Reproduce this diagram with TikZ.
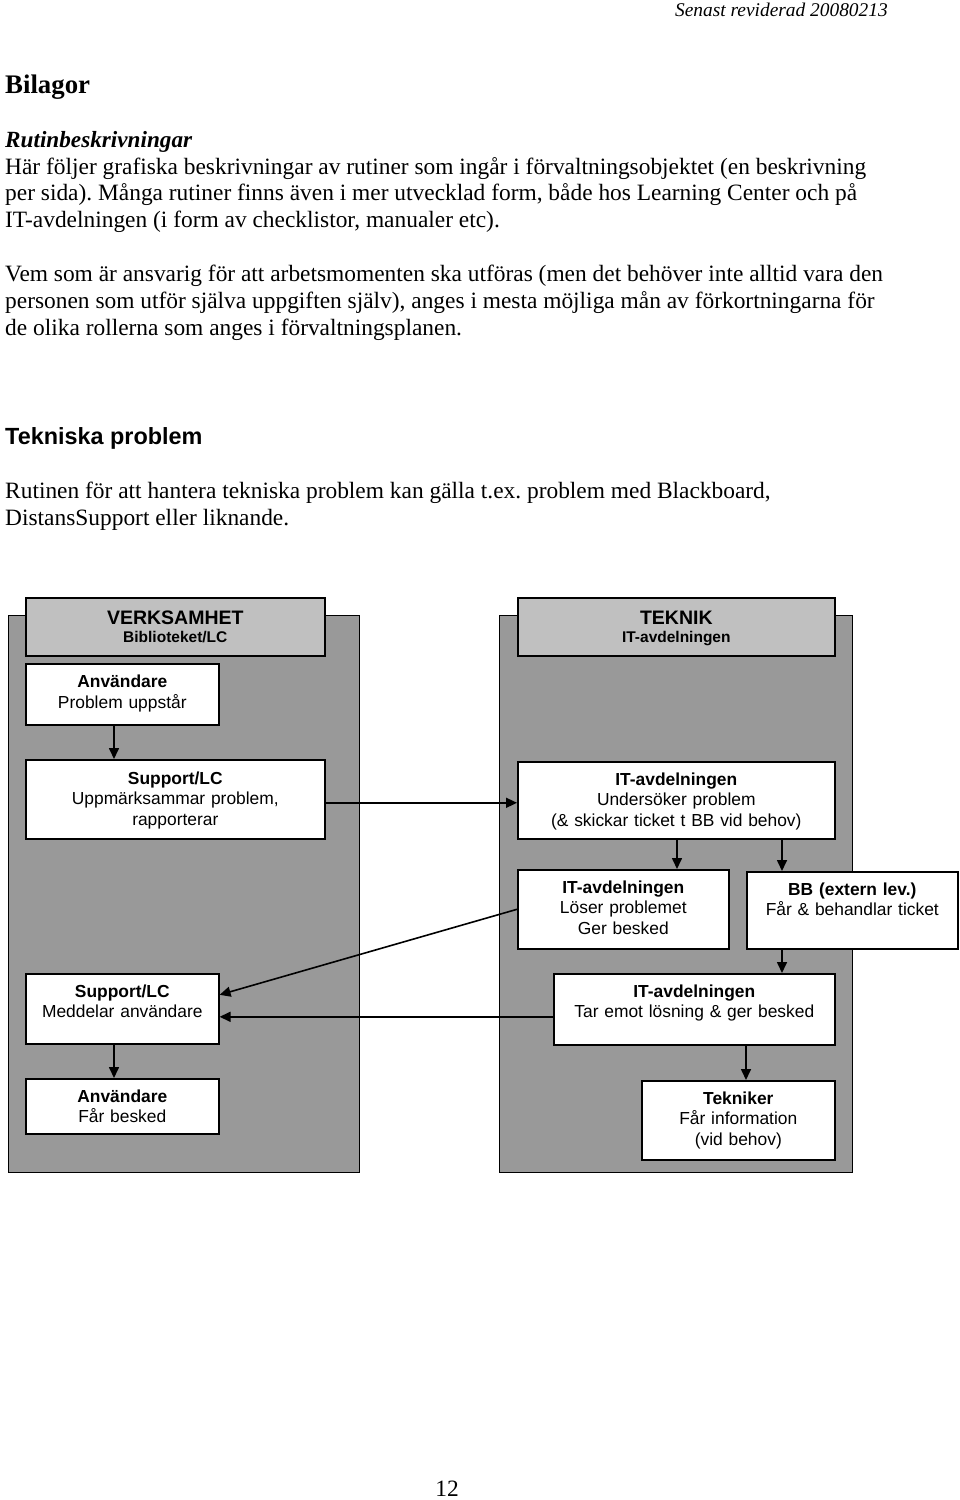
\documentclass[tikz,border=0pt]{standalone}
\usepackage{fontspec}
\setmainfont{Liberation Serif}
\setsansfont{Liberation Sans}
\usetikzlibrary{arrows.meta,calc}
\definecolor{lanegray}{HTML}{999999}
\definecolor{hdrgray}{HTML}{C0C0C0}
\frenchspacing
\begin{document}
\begin{tikzpicture}[x=1pt,y=-1pt,
 lane/.style={draw=black, line width=1.3pt, fill=lanegray, anchor=north west, inner sep=0},
 hdr/.style={draw=black, line width=1.6pt, fill=hdrgray, anchor=north west, inner sep=0},
 box/.style={draw=black, line width=1.6pt, fill=white, anchor=north west, inner sep=0},
 btxt/.style={font=\sffamily\fontsize{17.4}{20.7}\selectfont, anchor=base, align=center, inner sep=0},
 htxt/.style={font=\sffamily\bfseries\fontsize{19.5}{22}\selectfont, anchor=base, inner sep=0},
 hsub/.style={font=\sffamily\bfseries\fontsize{15.5}{18}\selectfont, anchor=base, inner sep=0},
 body/.style={font=\fontsize{23.4}{27}\selectfont, anchor=base west, inner sep=0},
 arr/.style={line width=1.6pt, -{Triangle[length=11pt,width=10pt]}}
]
\useasboundingbox (0,0) rectangle (960,1500);

% page texts
\node[font=\itshape\fontsize{19.4}{22}\selectfont, anchor=base east, inner sep=0] (hdrdate) at (888,16) {Senast reviderad 20080213};
\node[font=\bfseries\fontsize{26.8}{30}\selectfont, anchor=base west, inner sep=0] (bilagor) at (5,93) {Bilagor};
\node[body, font=\bfseries\itshape\fontsize{23.2}{27}\selectfont] (rutin) at (5,147) {Rutinbeskrivningar};
\node[body] (p1) at (5,174) {Här följer grafiska beskrivningar av rutiner som ingår i förvaltningsobjektet (en beskrivning};
\node[body] (p2) at (5,200) {per sida). Många rutiner finns även i mer utvecklad form, både hos Learning Center och på};
\node[body] (p3) at (5,227) {IT-avdelningen (i form av checklistor, manualer etc).};
\node[body] (q1) at (5,281) {Vem som är ansvarig för att arbetsmomenten ska utföras (men det behöver inte alltid vara den};
\node[body] (q2) at (5,308) {personen som utför själva uppgiften själv), anges i mesta möjliga mån av förkortningarna för};
\node[body] (q3) at (5,335) {de olika rollerna som anges i förvaltningsplanen.};
\node[font=\sffamily\bfseries\fontsize{23.4}{27}\selectfont, anchor=base west, inner sep=0] (tekh) at (5,444) {Tekniska problem};
\node[body] (r1) at (5,498) {Rutinen för att hantera tekniska problem kan gälla t.ex. problem med Blackboard,};
\node[body] (r2) at (5,525) {DistansSupport eller liknande.};
\node[font=\fontsize{23.4}{27}\selectfont, anchor=base, inner sep=0] (pnum) at (447,1496) {12};

% lanes
\node[lane, minimum width=351, minimum height=557] (laneL) at (8,615) {};
\node[lane, minimum width=353, minimum height=557] (laneR) at (499,615) {};

% headers
\node[hdr, minimum width=299, minimum height=58] (hdrL) at (25,597) {};
\node[htxt] (hdrL-t) at ($(hdrL.north)+(0,27)$) {VERKSAMHET};
\node[hsub] (hdrL-s) at ($(hdrL.north)+(0,45)$) {Biblioteket/LC};
\node[hdr, minimum width=317, minimum height=58] (hdrR) at (517,597) {};
\node[htxt] (hdrR-t) at ($(hdrR.north)+(0,27)$) {TEKNIK};
\node[hsub] (hdrR-s) at ($(hdrR.north)+(0,45)$) {IT-avdelningen};

% boxes
\node[box, minimum width=193, minimum height=61] (anv) at (25,663) {};
\node[btxt, text width=193] (anv-t) at ($(anv.north)+(0,24.5)$) {\textbf{Användare}\\Problem uppstår};

\node[box, minimum width=299, minimum height=79] (sup) at (25,759) {};
\node[btxt, text width=299] (sup-t) at ($(sup.north)+(0,25)$) {\textbf{Support/LC}\\Uppmärksammar problem,\\rapporterar};

\node[box, minimum width=317, minimum height=77] (it1) at (517,761) {};
\node[btxt, text width=317] (it1-t) at ($(it1.north)+(0,24)$) {\textbf{IT-avdelningen}\\Undersöker problem\\(\& skickar ticket t BB vid behov)};

\node[box, minimum width=211, minimum height=79] (los) at (517,869) {};
\node[btxt, text width=211] (los-t) at ($(los.north)+(0,24)$) {\textbf{IT-avdelningen}\\Löser problemet\\Ger besked};

\node[box, minimum width=211, minimum height=77] (bb) at (746,871) {};
\node[btxt, text width=211] (bb-t) at ($(bb.north)+(0,24)$) {\textbf{BB (extern lev.)}\\Får \& behandlar ticket};

\node[box, minimum width=281, minimum height=71] (tar) at (553,973) {};
\node[btxt, text width=281] (tar-t) at ($(tar.north)+(0,24)$) {\textbf{IT-avdelningen}\\Tar emot lösning \& ger besked};

\node[box, minimum width=193, minimum height=79] (tek) at (641,1080) {};
\node[btxt, text width=193] (tek-t) at ($(tek.north)+(0,24)$) {\textbf{Tekniker}\\Får information\\(vid behov)};

\node[box, minimum width=193, minimum height=70] (medd) at (25,973) {};
\node[btxt, text width=193] (medd-t) at ($(medd.north)+(0,24)$) {\textbf{Support/LC}\\Meddelar användare};

\node[box, minimum width=193, minimum height=55] (far) at (25,1078) {};
\node[btxt, text width=193] (far-t) at ($(far.north)+(0,24)$) {\textbf{Användare}\\Får besked};

% connectors
\draw[arr] ([xshift=89pt]anv.south west) -- ([xshift=89pt]sup.north west);
\draw[arr] ([yshift=-3.5pt]sup.east) -- ([yshift=-2.5pt]it1.west);
\draw[arr] ([xshift=160pt]it1.south west) -- ([xshift=160pt]los.north west);
\draw[arr] ([xshift=265pt]it1.south west) -- ([xshift=36pt]bb.north west);
\draw[arr] ([xshift=36pt]bb.south west) -- ([xshift=229pt]tar.north west);
\draw[arr] ([xshift=193pt]tar.south west) -- ([xshift=105pt]tek.north west);
\draw[arr] (los.west) -- ([yshift=14pt]medd.east);
\draw[arr] ([yshift=-7.5pt]tar.west) -- ([yshift=-8pt]medd.east);
\draw[arr] ([xshift=89pt]medd.south west) -- ([xshift=89pt]far.north west);
\end{tikzpicture}
\end{document}
